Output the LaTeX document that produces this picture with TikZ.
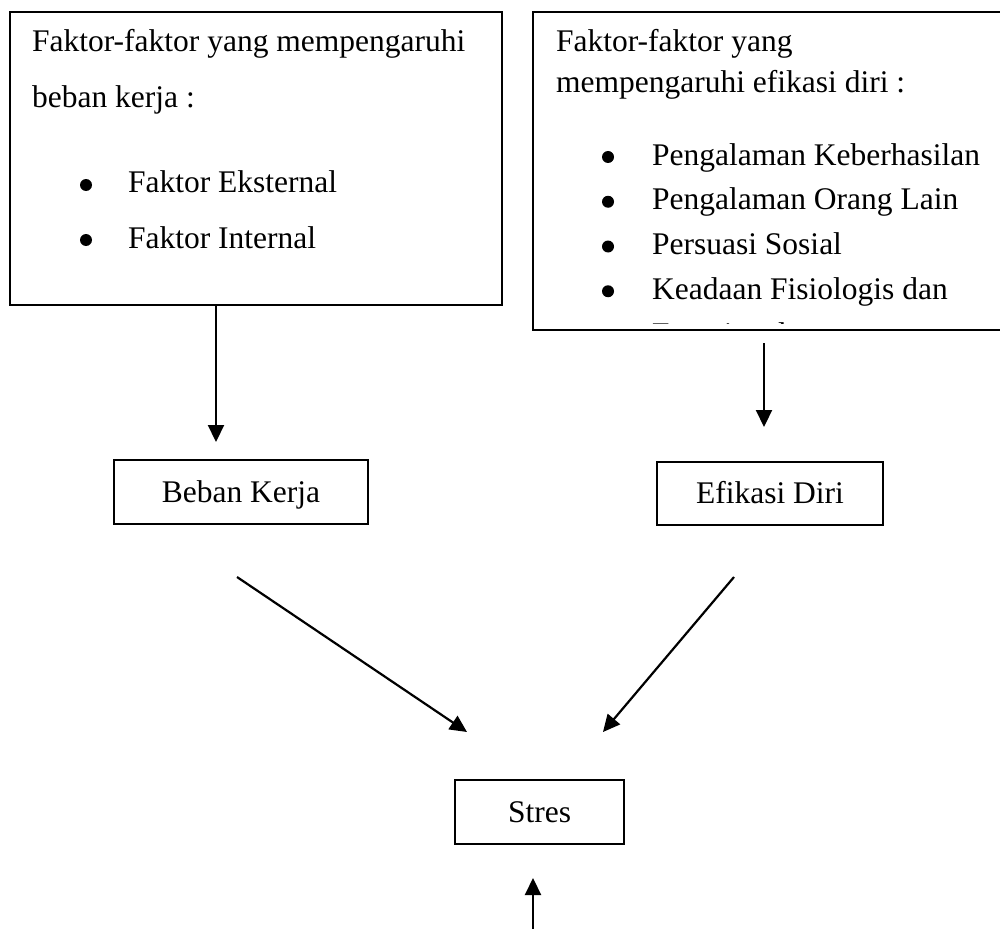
\documentclass[tikz,border=0pt]{standalone}
\usepackage{fontspec}
\setmainfont{Liberation Serif}
\usetikzlibrary{arrows.meta}

\begin{document}
\begin{tikzpicture}[
            x = 1pt, y = -1pt,
            line width = 2.2pt,
            box/.style = {
                draw, rectangle,
                inner sep = 0pt,
                text height = 22pt, text depth = 2pt,
                font = \fontsize{31.5}{38}\selectfont,
            },
            txt/.style = {
                anchor = base west,
                inner sep = 0pt,
                font = \fontsize{31.5}{38}\selectfont,
            },
            butir/.style = {
                circle, fill,
                inner sep = 0pt,
                minimum size = 12pt,
            },
            panah/.style = {
                -{Triangle[length = 17pt, width = 16pt]},
            },
        ]

        \useasboundingbox (0,0) rectangle (1000,928);

        % Kotak
        \node[box, minimum width = 492pt, minimum height = 293pt] (faktorbeban) at (256,158.5) {};
        \node[box, minimum width = 477pt, minimum height = 318pt] (faktorefikasi) at (771.5,171) {};
        \node[box, minimum width = 254pt, minimum height = 64pt] (beban) at (241,492) {Beban Kerja};
        \node[box, minimum width = 226pt, minimum height = 63pt] (efikasi) at (770,493.5) {Efikasi Diri};
        \node[box, minimum width = 169pt, minimum height = 64pt] (stres) at (539.5,812) {Stres};

        % Isi kotak kiri
        \node[txt] (kiri1) at (31,52) {Faktor-faktor yang mempengaruhi};
        \node[txt] (kiri2) at (31,108) {beban kerja :};
        \foreach \teks [count = \i] in {Faktor Eksternal, Faktor Internal} {
            \node[butir] at (86,{185 + 55*(\i-1)}) {};
            \node[txt] (kiributir\i) at (127,{193 + 55*(\i-1)}) {\teks};
        }

        % Isi kotak kanan
        \node[txt] (kanan1) at (555,52) {Faktor-faktor yang};
        \node[txt] (kanan2) at (555,93) {mempengaruhi efikasi diri :};
        \begin{scope}
            \clip (faktorefikasi.north west) rectangle ([yshift = 8pt]faktorefikasi.south east);
            \foreach \teks [count = \i] in {Pengalaman Keberhasilan, Pengalaman Orang Lain,
                    Persuasi Sosial, Keadaan Fisiologis dan, Emosional} {
                \node[butir] at (608,{157 + 44.75*(\i-1)}) {};
                \node[txt] (kananbutir\i) at (651,{165 + 44.75*(\i-1)}) {\teks};
            }
        \end{scope}

        % Panah
        \coordinate (ujungbeban) at (216,442);
        \coordinate (pangkalefikasi) at (764,343);
        \coordinate (ujungefikasi) at (764,427);
        \coordinate (pangkalkiri) at (237,577);
        \coordinate (ujungkiri) at (467,732);
        \coordinate (pangkalkanan) at (734,577);
        \coordinate (ujungkanan) at (603,732);
        \coordinate (pangkalbawah) at (533,940);
        \coordinate (ujungbawah) at (533,878);

        \draw[panah] (faktorbeban.south -| ujungbeban) -- (ujungbeban);
        \draw[panah] (pangkalefikasi) -- (ujungefikasi);
        \draw[panah] (pangkalkiri) -- (ujungkiri);
        \draw[panah] (pangkalkanan) -- (ujungkanan);
        \draw[panah] (pangkalbawah) -- (ujungbawah);

    \end{tikzpicture}
\end{document}
